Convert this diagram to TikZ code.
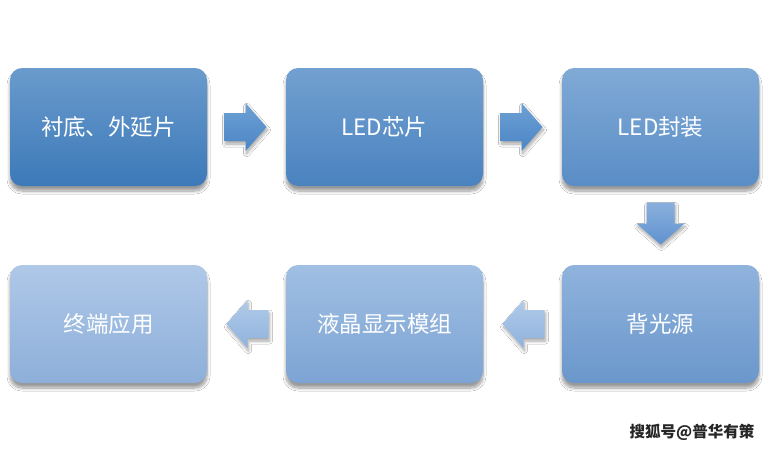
\documentclass[tikz,border=0pt]{standalone}
\usepackage{fontspec}
\setmainfont{Noto Sans CJK SC}
\usetikzlibrary{shadows.blur,calc}
\definecolor{c1t}{HTML}{6A9BCC}\definecolor{c1b}{HTML}{3C79B9}
\definecolor{c2t}{HTML}{72A0D0}\definecolor{c2b}{HTML}{4A83C0}
\definecolor{c3t}{HTML}{80AAD6}\definecolor{c3b}{HTML}{5A8DC6}
\definecolor{c4t}{HTML}{90B3DD}\definecolor{c4b}{HTML}{6A97CB}
\definecolor{c5t}{HTML}{A0BFE3}\definecolor{c5b}{HTML}{7DA4D4}
\definecolor{c6t}{HTML}{AFC8E8}\definecolor{c6b}{HTML}{8DAFD9}
\definecolor{a1t}{HTML}{6EA0D4}\definecolor{a1b}{HTML}{4A86C6}
\definecolor{a2t}{HTML}{8AB0DD}\definecolor{a2b}{HTML}{5F92CF}
\definecolor{a3t}{HTML}{B0CBEA}\definecolor{a3b}{HTML}{8FB2DC}
\tikzset{
  box/.style={rounded corners=12pt, minimum width=197pt, minimum height=118pt,
    inner sep=0pt, text=white, font=\fontsize{22.5}{26}\selectfont,
    blur shadow={shadow xshift=0pt, shadow yshift=-5pt, shadow blur radius=3pt, shadow blur steps=10, shadow opacity=40}},
  blockarrow/.style={draw=none,
    blur shadow={shadow xshift=1pt, shadow yshift=-3pt, shadow blur radius=3pt, shadow blur steps=8, shadow opacity=35}},
}
\newcommand{\blockarr}[4]{%
  \path[blockarrow, shading=axis, top color=#3, bottom color=#4, shift={(#1)}, rotate=#2]
    (-21pt,-14pt) -- (0pt,-14pt) -- (0pt,-24pt) -- (21pt,0pt) -- (0pt,24pt) -- (0pt,14pt) -- (-21pt,14pt) -- cycle;}
\begin{document}
\begin{tikzpicture}[x=1pt,y=-1pt]
\useasboundingbox[fill=white] (0,0) rectangle (769,450);
\node[box, top color=c1t, bottom color=c1b] (b1) at (108.5,127) {衬底、外延片};
\node[box, top color=c2t, bottom color=c2b] (b2) at (384.5,127) {LED芯片};
\node[box, top color=c3t, bottom color=c3b] (b3) at (660.5,127) {LED封装};
\node[box, top color=c4t, bottom color=c4b] (b4) at (660.5,324) {背光源};
\node[box, top color=c5t, bottom color=c5b] (b5) at (384.5,324) {液晶显示模组};
\node[box, top color=c6t, bottom color=c6b] (b6) at (108.5,324) {终端应用};
\coordinate (m12) at ($(b1.east)!0.5!(b2.west)+(-1,0)$);
\coordinate (m23) at ($(b2.east)!0.5!(b3.west)+(-1,0)$);
\coordinate (m34) at ($(b3.south)!0.5!(b4.north)+(0,-2)$);
\coordinate (m45) at ($(b4.west)!0.5!(b5.east)+(1,0)$);
\coordinate (m56) at ($(b5.west)!0.5!(b6.east)+(1,0)$);
\blockarr{m12}{0}{a1t}{a1b}
\blockarr{m23}{0}{a1t}{a1b}
\blockarr{m34}{-90}{a2t}{a2b}
\blockarr{m45}{180}{a3t}{a3b}
\blockarr{m56}{180}{a3t}{a3b}
\node[text=black!85, font=\fontsize{15.5}{18}\selectfont\bfseries] (wm) at (692,432) {搜狐号@普华有策};
\end{tikzpicture}
\end{document}
